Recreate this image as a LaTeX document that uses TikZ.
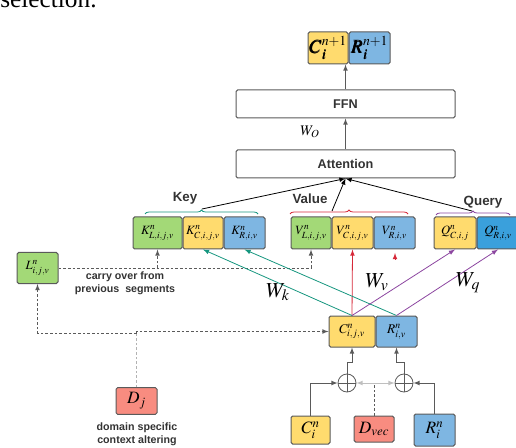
\documentclass[tikz,border=0pt]{standalone}
\usepackage{amsmath}
\usepackage{mathptmx}
\usepackage{bm}
\usepackage[no-math]{fontspec}
\setmainfont{Liberation Sans}
\newfontfamily\paperfont{Liberation Serif}
\usetikzlibrary{positioning, decorations.pathreplacing, calc}

\definecolor{cyel}{HTML}{FFDB6E}
\definecolor{cblu}{HTML}{7EB6E2}
\definecolor{cqblu}{HTML}{3AA0DC}
\definecolor{cgrn}{HTML}{A3D977}
\definecolor{cred}{HTML}{F88C80}
\definecolor{kcol}{HTML}{16967F}
\definecolor{vcol}{HTML}{D62839}
\definecolor{qcol}{HTML}{8C46A0}
\definecolor{txtgray}{HTML}{333333}
\definecolor{edgegray}{HTML}{5A5A5A}

\tikzset{
  cell/.style={draw=edgegray, line width=0.75pt, rounded corners=1.2pt, inner sep=0pt,
    minimum height=24pt, font=\fontsize{9.5}{10}\selectfont},
  block/.style={cell, fill=white, minimum width=164.25pt, minimum height=21pt,
    font=\bfseries\fontsize{9.5}{11}\selectfont, text=txtgray},
  lbl/.style={font=\bfseries\fontsize{10}{11}\selectfont, text=txtgray},
  note/.style={font=\bfseries\fontsize{8}{10}\selectfont, text=txtgray, align=center},
  bigmath/.style={font=\fontsize{14}{14}\selectfont},
  wlab/.style={font=\fontsize{16}{16}\selectfont},
  sumnode/.style={circle, draw=edgegray, line width=0.6pt, minimum size=13.5pt, inner sep=0pt,
    path picture={\draw[edgegray, line width=0.6pt]
      (path picture bounding box.north) -- (path picture bounding box.south)
      (path picture bounding box.west) -- (path picture bounding box.east);}},
  brc/.style={decorate, decoration={brace, amplitude=3pt}, line width=0.6pt},
  carry/.style={draw=edgegray, dashed, dash pattern=on 2pt off 1.5pt, line width=0.6pt},
  feed/.style={draw=edgegray, line width=0.6pt},
  feedlight/.style={draw=gray!50, line width=0.6pt},
}

\begin{document}
\begin{tikzpicture}[x=0.75pt, y=-0.75pt, >=latex]

\useasboundingbox (0,0) rectangle (516,448);

% text of the page above the figure
\node[anchor=base west, inner sep=0pt, font=\paperfont\fontsize{19}{19}\selectfont] (sel) at (0,7.5) {selection.};

% output
\node[cell, fill=cyel, minimum width=30pt, bigmath] (Cout) at (328,48) {$\bm{C_i^{n+1}}$};
\node[cell, fill=cblu, minimum width=30.75pt, bigmath, right=0pt of Cout] (Rout) {$\bm{R_i^{n+1}}$};

\node[block] (ffn) at (345.5,104) {FFN};
\node[block] (att) at (345.5,164) {Attention};

\draw[feed, ->] (ffn.north) -- (ffn.north |- Cout.south);
\draw[feed, ->] (att.north) -- (ffn.south);
\node[font=\fontsize{11}{11}\selectfont] (wo) at (310,132) {$W_O$};

% key / value / query rows
\node[cell, fill=cgrn, minimum width=36.75pt] (KL) at (157.5,233) {$K^n_{L,i,j,v}$};
\node[cell, fill=cyel, minimum width=30pt, right=0pt of KL] (KC) {$K^n_{C,i,j,v}$};
\node[cell, fill=cblu, minimum width=30.75pt, right=0pt of KC] (KR) {$K^n_{R,i,v}$};

\node[cell, fill=cgrn, minimum width=30pt] (VL) at (311,233) {$V^n_{L,i,j,v}$};
\node[cell, fill=cyel, minimum width=30.75pt, right=0pt of VL] (VC) {$V^n_{C,i,j,v}$};
\node[cell, fill=cblu, minimum width=30.75pt, right=0pt of VC] (VR) {$V^n_{R,i,v}$};

\node[cell, fill=cyel, minimum width=31.5pt] (QC) at (455,233) {$Q^n_{C,i,j}$};
\node[cell, fill=cqblu, minimum width=31.5pt, right=0pt of QC] (QR) {$Q^n_{R,i,v}$};

% braces
\draw[brc, kcol] (145,214) -- (258,214);
\draw[brc, vcol] (290,214) -- (408,214);
\draw[brc, qcol] (436,215) -- (510,215);
\node[lbl] (key) at (185,198) {Key};
\node[lbl] (value) at (310,199) {Value};
\node[lbl] (query) at (483,202) {Query};

\coordinate (ktip) at (202,209);
\coordinate (vtip) at (332,211);
\coordinate (qtip) at (472,211);
\draw[feed, draw=black, ->] (ktip) -- (att.south);
\draw[feed, draw=black, ->] (vtip) -- (att.south);
\draw[feed, draw=black, ->] (qtip) -- (att.south);

% carried over segment
\node[cell, fill=cgrn, minimum width=30.75pt, minimum height=23.25pt] (Lprev) at (37.5,268) {$L^n_{i,j,v}$};
\coordinate (cK) at (KL.south |- Lprev.east);
\coordinate (cV) at (VL.south |- Lprev.east);
\draw[carry] (Lprev.east) -- (cV);
\draw[carry, ->] (cK) -- (KL.south);
\draw[carry, ->] (cV) -- (VL.south);
\node[note] (carrytxt) at (125,283.5) {carry over from\\previous\ \ segments};

% current segment
\node[cell, fill=cyel, minimum width=34.5pt, minimum height=23.25pt, font=\fontsize{10}{10}\selectfont] (Cn) at (352,331.5) {$C^n_{i,j,v}$};
\node[cell, fill=cblu, minimum width=30.75pt, minimum height=23.25pt, font=\fontsize{10}{10}\selectfont, right=0pt of Cn] (Rn) {$R^n_{i,v}$};

% domain
\node[cell, fill=cred, minimum width=30.75pt, minimum height=20pt, font=\fontsize{13}{13}\selectfont] (Dj) at (136.5,401) {$D_j$};
\node[note] (domtxt) at (137,434.5) {domain specific\\context altering};
\coordinate (dsplit) at (136.5,333);
\draw[carry, draw=gray!60] (Dj.north) -- (dsplit);
\draw[carry, ->] (dsplit) -| (Lprev.south);
\draw[carry, ->] (dsplit) |- (Cn.west);

% inputs
\node[sumnode] (sumC) at (347,383) {};
\node[sumnode] (sumR) at (404,383) {};
\node[cell, fill=cyel, minimum width=29.25pt, minimum height=21pt, font=\fontsize{13}{13}\selectfont] (Cin) at (310.5,430) {$C_i^n$};
\node[cell, fill=cred, minimum width=30pt, minimum height=19.5pt, font=\fontsize{13}{13}\selectfont] (Dvec) at (374,429) {$D_{vec}$};
\node[cell, fill=cblu, minimum width=30.75pt, minimum height=24pt, font=\fontsize{13}{13}\selectfont] (Rin) at (434.5,430) {$R_i^n$};

\draw[feed, ->] (Cin.north) |- (sumC.west);
\draw[feed, ->] (Rin.north) |- (sumR.east);
\coordinate (dvsplit) at (Dvec.north |- sumC.west);
\draw[carry] (Dvec.north) -- (dvsplit);
\draw[feedlight, ->] (dvsplit) -- (sumC.east);
\draw[feedlight, ->] (dvsplit) -- (sumR.west);
\draw[feed, ->] (sumC.north) -- ++(0,-11) -| (Cn.south);
\draw[feed, ->] (sumR.north) -- ++(0,-11) -| (Rn.south);

% projections
\draw[vcol, line width=0.6pt, ->] (Cn.north) -- (VC.south);
\draw[kcol, line width=0.6pt, ->] (Cn.north) -- (KC.south);
\draw[kcol, line width=0.6pt, ->] (Rn.north) -- (KR.south);
\draw[qcol, line width=0.6pt, ->] (Cn.north) -- (QC.south);
\draw[qcol, line width=0.6pt, ->] (Rn.north) -- (QR.south);
\coordinate (redtip) at (395,259);
\draw[vcol, line width=0.6pt, ->] (redtip) -- ++(0,-6);

\node[wlab] (wk) at (278,292) {$W_k$};
\node[wlab] (wv) at (377,282) {$W_v$};
\node[wlab] (wq) at (468,283) {$W_q$};

\end{tikzpicture}
\end{document}
